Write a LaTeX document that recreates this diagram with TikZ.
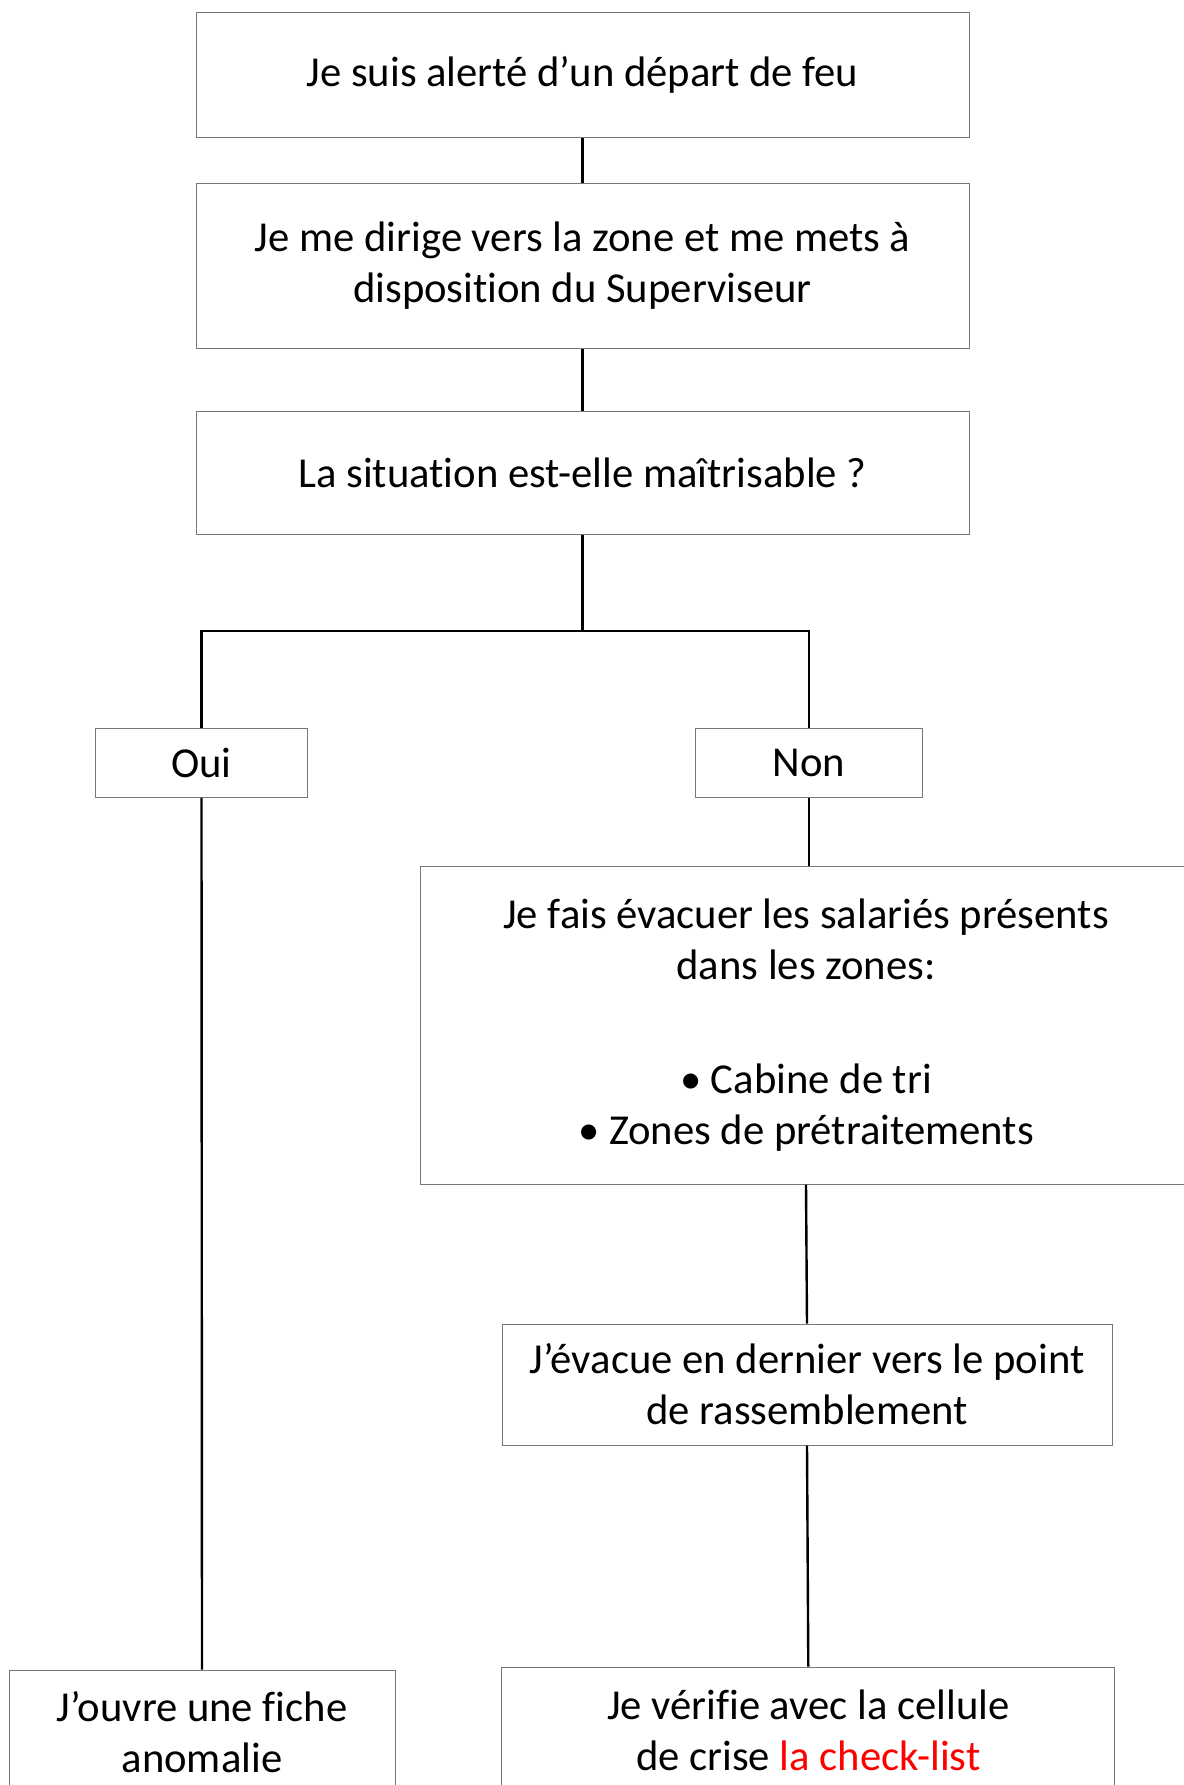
\documentclass[tikz,border=0pt]{standalone}
\usepackage{fontspec}
\setmainfont{Carlito}[Ligatures=CommonOff]
\definecolor{boxgray}{RGB}{120,120,120}
\tikzset{
    box/.style={draw=boxgray, line width=0.75pt, rectangle, inner sep=0pt, align=center,
        font=\fontsize{32}{38.25}\selectfont},
    link/.style={draw=black, line width=1.8pt}
}
\begin{document}
\begin{tikzpicture}[x=0.75pt,y=-0.75pt]
            \clip (0,0) rectangle (1184,1785);
            \useasboundingbox (0,0) rectangle (1184,1785);
            \node [box, minimum width=579.75pt, minimum height=94.1pt] (alerte) at(582.5,75) {Je suis alerté d’un départ de feu};
            \node [box, minimum width=579.75pt, minimum height=123.75pt] (dirige) at(582.5,265.5) {Je me dirige vers la zone et me mets à\\disposition du Superviseur};
            \node [box, minimum width=579.75pt, minimum height=92.25pt] (situation) at(582.5,472.5) {La situation est-elle maîtrisable ?};
            \node [box, minimum width=159pt, minimum height=51.4pt] (oui) at(201.5,763) {Oui};
            \node [box, minimum width=169.8pt, minimum height=51.4pt] (non) at(808.8,763) {Non};
            \node [box, minimum width=579pt, minimum height=238.5pt] (evac) at(806,1025) {Je fais évacuer les salariés présents\\dans les zones:\\[47pt]• Cabine de tri\\• Zones de prétraitements};
            \node [box, minimum width=457.5pt, minimum height=90.75pt] (rassemblement) at(807,1384.5) {J’évacue en dernier vers le point\\de rassemblement};
            \node [box, minimum width=289.5pt, minimum height=93pt] (fiche) at(202,1732) {J’ouvre une fiche\\anomalie};
            \node [box, minimum width=459.5pt, minimum height=94.5pt] (checklist) at(808.3,1730) {Je vérifie avec la cellule\\de crise \textcolor{red}{la check-list}};
            \coordinate (split) at(582.5,631);
            \draw [link] (alerte) -- (dirige);
            \draw [link] (dirige) -- (situation);
            \draw [link] (situation) -- (split);
            \draw [link] (split) -| (oui);
            \draw [link] (split) -| (non);
            \draw [link] (non.south) -- (non.south |- evac.north);
            \draw [link] (evac.south) -- (rassemblement.north);
            \draw [link] (rassemblement.south) -- (checklist.north);
            \draw [link] (oui.south) -- (fiche.north);
        \end{tikzpicture}
\end{document}
